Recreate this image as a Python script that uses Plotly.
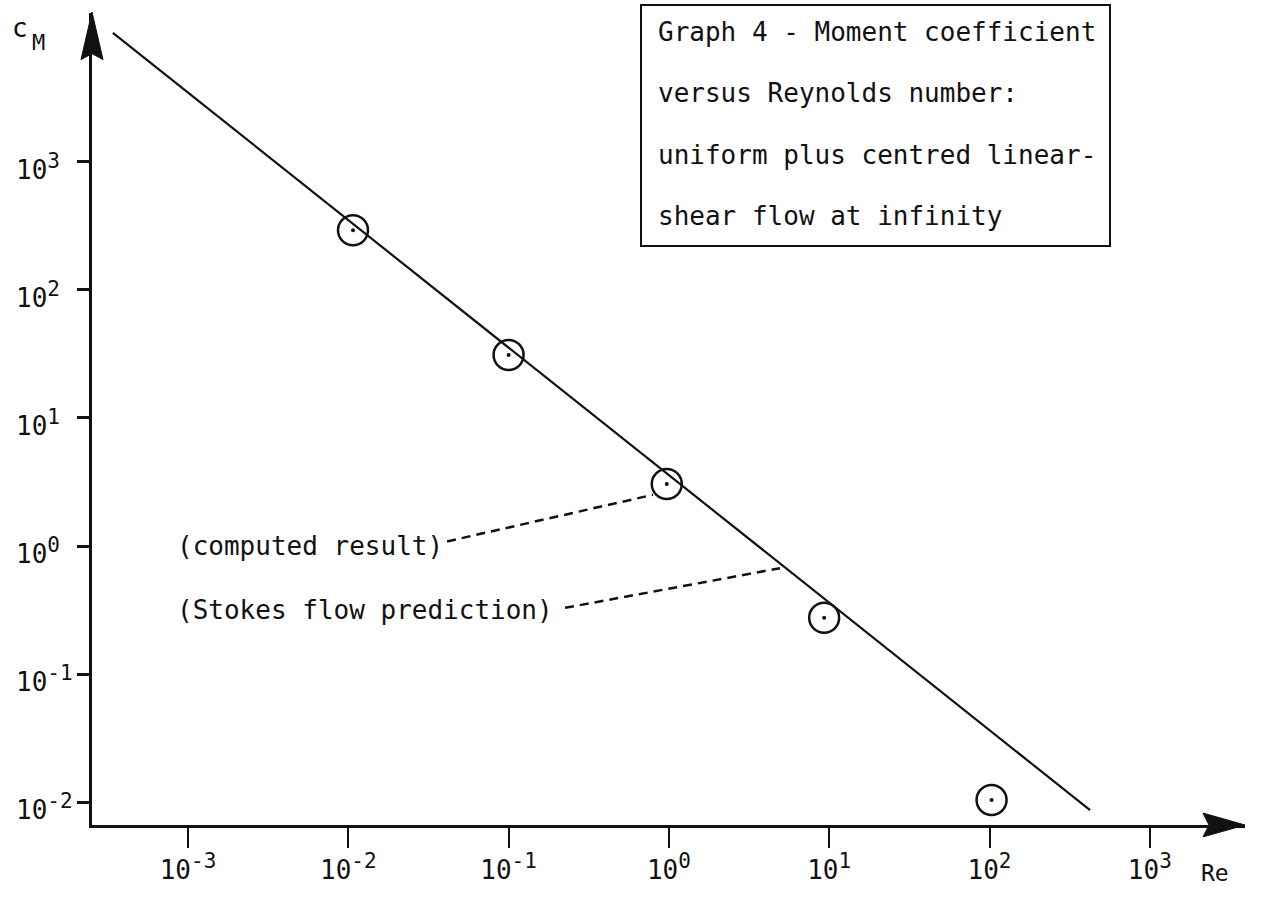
import numpy as np
import plotly.graph_objects as go

# ---------------- data ----------------
re_points = [0.0107, 0.1, 0.97, 9.3, 103]          # computed result (Re)
cm_points = [292, 31, 3.05, 0.275, 0.0104]         # computed result (C_M)
stokes_re = [3.4e-4, 424]                          # Stokes flow prediction line
stokes_cm = [10140, 0.00867]

computed_leader_re = [0.0413, 0.796]
computed_leader_cm = [1.086, 2.51]
stokes_leader_re = [0.225, 4.93]
stokes_leader_cm = [0.329, 0.671]

x_tickvals = [1e-3, 1e-2, 1e-1, 1e0, 1e1, 1e2, 1e3]
x_exponents = ["-3", "-2", "-1", "0", "1", "2", "3"]
y_tickvals = [1e-2, 1e-1, 1e0, 1e1, 1e2, 1e3]
y_exponents = ["-2", "-1", "0", "1", "2", "3"]

label_re = 8.3e-4
computed_label_cm = 0.993
stokes_label_cm = 0.318

title_lines = ["Graph 4 - Moment coefficient",
               "versus Reynolds number:",
               "uniform plus centred linear-",
               "shear flow at infinity"]

# ---------------- layout helpers ----------------
W, H = 1263, 897
L, R, T, B = 92, 1245, 13, 832
FONT = "DejaVu Sans Mono"
INK = "#111111"


def px(x):
    return (x - L) / (R - L)


def py(y):
    return (B - y) / (B - T)


def pow_label(e):
    return f"10<sup><span style='font-size:21px'>{e}</span></sup>"


x_ticktext = [pow_label(e) for e in x_exponents]
y_ticktext = [pow_label(e) for e in y_exponents]

fig = go.Figure()

# Stokes line
fig.add_trace(go.Scatter(x=stokes_re, y=stokes_cm, mode="lines",
                         line=dict(color=INK, width=2.2), hoverinfo="skip",
                         showlegend=False))
# leader lines
fig.add_trace(go.Scatter(x=computed_leader_re, y=computed_leader_cm, mode="lines",
                         line=dict(color=INK, width=2.5, dash="9px,6px"),
                         showlegend=False, hoverinfo="skip"))
fig.add_trace(go.Scatter(x=stokes_leader_re, y=stokes_leader_cm, mode="lines",
                         line=dict(color=INK, width=2.5, dash="9px,6px"),
                         showlegend=False, hoverinfo="skip"))
# computed points: circles + centre dots
fig.add_trace(go.Scatter(x=re_points, y=cm_points, mode="markers",
                         marker=dict(symbol="circle-open", size=30,
                                     line=dict(color=INK, width=2.5), color=INK),
                         showlegend=False))
fig.add_trace(go.Scatter(x=re_points, y=cm_points, mode="markers",
                         marker=dict(symbol="circle", size=4, color=INK),
                         showlegend=False, hoverinfo="skip"))

fig.update_xaxes(type="log",
                 range=[-3 + (L - 188) / 160.3, -3 + (R - 188) / 160.3],
                 showgrid=False, zeroline=False,
                 showline=True, linecolor=INK, linewidth=2.5,
                 ticks="outside", ticklen=20, tickwidth=2, tickcolor=INK,
                 tickvals=x_tickvals, ticktext=x_ticktext,
                 tickfont=dict(family=FONT, size=26, color=INK))
fig.update_yaxes(type="log",
                 range=[3 - (B - 163) / 129.2, 3 + (163 - T) / 129.2],
                 showgrid=False, zeroline=False,
                 showline=True, linecolor=INK, linewidth=2.5,
                 ticks="outside", ticklen=12, tickwidth=2.5, tickcolor=INK,
                 tickvals=y_tickvals, showticklabels=False)

ann = []
# y tick labels, left aligned
for v, t in zip(y_tickvals, y_ticktext):
    ann.append(dict(x=0, xref="paper", xshift=14 - L, xanchor="left",
                    y=np.log10(v), yref="y", yanchor="middle", yshift=-5,
                    text=t, showarrow=False,
                    font=dict(family=FONT, size=26, color=INK)))
# axis names
ann.append(dict(x=px(20), y=py(28), xref="paper", yref="paper", text="c",
                showarrow=False, xanchor="center", yanchor="middle",
                font=dict(family=FONT, size=26, color=INK)))
ann.append(dict(x=px(38), y=py(43), xref="paper", yref="paper", text="M",
                showarrow=False, xanchor="center", yanchor="middle",
                font=dict(family=FONT, size=22, color=INK)))
ann.append(dict(x=px(1215), y=py(880), xref="paper", yref="paper", text="Re",
                showarrow=False, xanchor="center", yanchor="middle",
                font=dict(family=FONT, size=23, color=INK)))
# curve labels
ann.append(dict(x=np.log10(label_re), y=np.log10(computed_label_cm), xref="x", yref="y",
                text="(computed result)", showarrow=False, xanchor="left",
                yanchor="middle", font=dict(family=FONT, size=26, color=INK)))
ann.append(dict(x=np.log10(label_re), y=np.log10(stokes_label_cm), xref="x", yref="y",
                text="(Stokes flow prediction)", showarrow=False, xanchor="left",
                yanchor="middle", font=dict(family=FONT, size=26, color=INK)))
# title box lines
for i, line in enumerate(title_lines):
    ann.append(dict(x=px(656), y=py(32 + 62 * i), xref="paper", yref="paper",
                    text=line, showarrow=False, xanchor="left", yanchor="middle",
                    font=dict(family=FONT, size=26, color=INK)))

shapes = [
    # title box
    dict(type="rect", xref="paper", yref="paper",
         x0=px(641), x1=px(1110), y0=py(5), y1=py(248),
         line=dict(color=INK, width=2), fillcolor="rgba(0,0,0,0)"),
    # y arrow head
    dict(type="path", xref="paper", yref="paper",
         path=f"M {px(92)} {py(12)} L {px(81)} {py(60)} L {px(92)} {py(54)} L {px(103)} {py(60)} Z",
         fillcolor=INK, line=dict(color=INK, width=1)),
    # x arrow head
    dict(type="path", xref="paper", yref="paper",
         path=f"M {px(1245)} {py(832)} L {px(1203)} {py(820)} L {px(1209)} {py(832)} L {px(1203)} {py(844)} Z",
         fillcolor=INK, line=dict(color=INK, width=1)),
]

fig.update_layout(width=W, height=H, autosize=False,
                  margin=dict(l=L, r=W - R, t=T, b=H - B, pad=0),
                  plot_bgcolor="white", paper_bgcolor="white",
                  annotations=ann, shapes=shapes, showlegend=False,
                  font=dict(family=FONT, color=INK))

fig.write_html("out.html")
